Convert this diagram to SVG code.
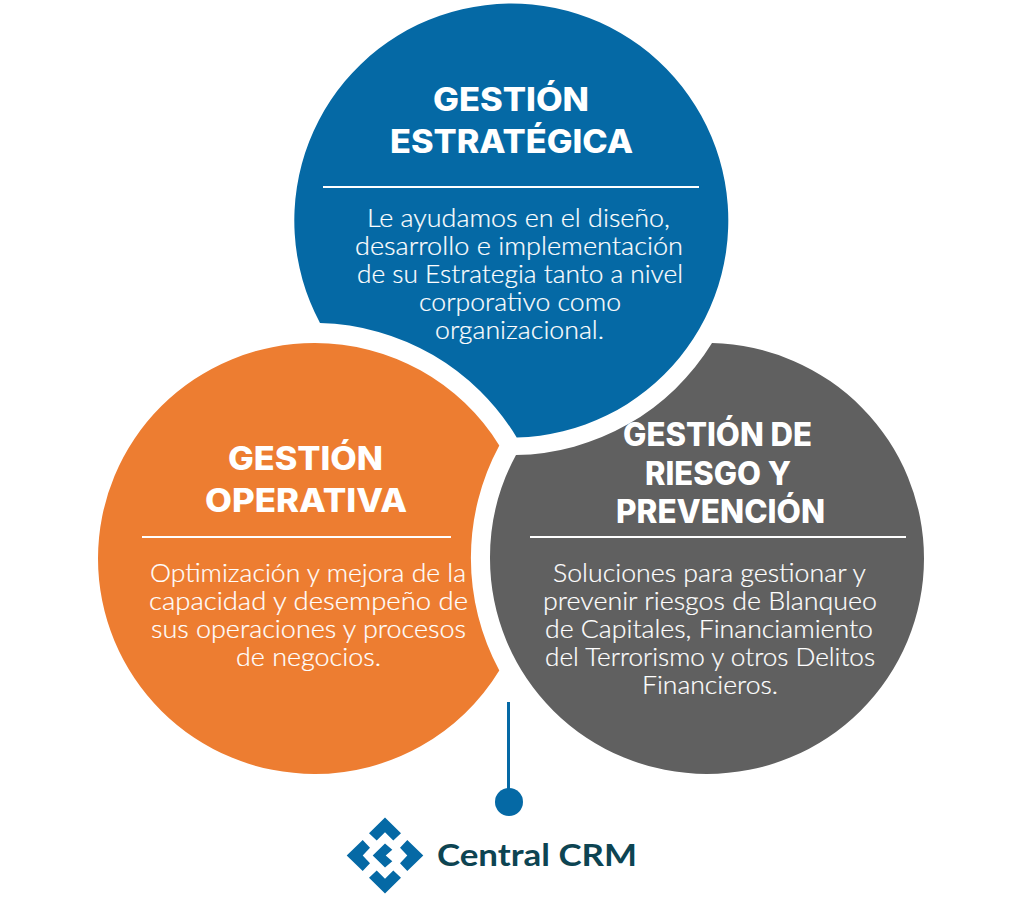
<svg xmlns="http://www.w3.org/2000/svg" width="1024" height="900" viewBox="0 0 1024 900">
<style>
.t{font-family:"Inter","Liberation Sans",sans-serif;font-weight:800;font-size:32px;fill:#fff;text-anchor:start}
.b{font-family:"Lato","Open Sans",sans-serif;font-weight:300;font-size:25px;fill:#fff;text-anchor:start;stroke:#fff;stroke-width:0.2}
.r{stroke:#fff;stroke-width:2;fill:none}
</style>
<rect width="1024" height="900" fill="#fff"/>
<g id="connectors">
<line x1="508.5" y1="702" x2="508.5" y2="790" stroke="#0569a5" stroke-width="3"/>
</g>
<g id="estrategica">
<path d="M320 323A217 217 0 1 1 516.7 437.500A236.500 236.500 0 0 0 320 323Z" fill="#0569a5"/>
<text class="t" x="433" y="110.500" textLength="156" lengthAdjust="spacingAndGlyphs">GESTIÓN</text>
<text class="t" x="390" y="152.500" textLength="243" lengthAdjust="spacingAndGlyphs">ESTRATÉGICA</text>
<line class="r" x1="323" y1="187" x2="699" y2="187"/>
<text class="b" x="367" y="227" textLength="303" lengthAdjust="spacingAndGlyphs">Le ayudamos en el diseño,</text>
<text class="b" x="355" y="255" textLength="328" lengthAdjust="spacingAndGlyphs">desarrollo e implementación</text>
<text class="b" x="357" y="283" textLength="326" lengthAdjust="spacingAndGlyphs">de su Estrategia tanto a nivel</text>
<text class="b" x="419" y="311" textLength="202" lengthAdjust="spacingAndGlyphs">corporativo como</text>
<text class="b" x="435" y="339" textLength="169" lengthAdjust="spacingAndGlyphs">organizacional.</text>
</g>
<g id="operativa">
<path d="M499.3 445.500A216.600 215.500 0 0 0 314.600 343A216.600 215.500 0 0 0 98 558.500A216.600 215.500 0 0 0 314.600 774A216.600 215.500 0 0 0 499.300 670.500A237 237 0 0 1 499.300 445.500Z" fill="#ed7d31"/>
<text class="t" x="228" y="470" textLength="155" lengthAdjust="spacingAndGlyphs">GESTIÓN</text>
<text class="t" x="205" y="512" textLength="202" lengthAdjust="spacingAndGlyphs">OPERATIVA</text>
<line class="r" x1="142" y1="537" x2="451" y2="537"/>
<text class="b" x="150" y="582" textLength="316" lengthAdjust="spacingAndGlyphs">Optimización y mejora de la</text>
<text class="b" x="149" y="610" textLength="319" lengthAdjust="spacingAndGlyphs">capacidad y desempeño de</text>
<text class="b" x="151" y="638" textLength="315" lengthAdjust="spacingAndGlyphs">sus operaciones y procesos</text>
<text class="b" x="236" y="666" textLength="145" lengthAdjust="spacingAndGlyphs">de negocios.</text>
</g>
<g id="riesgo">
<path d="M712 343.100A217 215.500 0 0 1 924 558.500A217 215.500 0 0 1 707 774A217 215.500 0 0 1 490 558.500A217 215.500 0 0 1 516 455A235 235 0 0 0 712 343.100Z" fill="#606060"/>
<text class="t" x="623" y="446" textLength="189" lengthAdjust="spacingAndGlyphs">GESTIÓN DE</text>
<text class="t" x="645" y="485" textLength="146" lengthAdjust="spacingAndGlyphs">RIESGO Y</text>
<text class="t" x="616" y="522.500" textLength="209" lengthAdjust="spacingAndGlyphs">PREVENCIÓN</text>
<line class="r" x1="530" y1="537" x2="906" y2="537"/>
<text class="b" x="553" y="582" textLength="313" lengthAdjust="spacingAndGlyphs">Soluciones para gestionar y</text>
<text class="b" x="543" y="610" textLength="334" lengthAdjust="spacingAndGlyphs">prevenir riesgos de Blanqueo</text>
<text class="b" x="545" y="638" textLength="328" lengthAdjust="spacingAndGlyphs">de Capitales, Financiamiento</text>
<text class="b" x="545" y="666" textLength="330" lengthAdjust="spacingAndGlyphs">del Terrorismo y otros Delitos</text>
<text class="b" x="642" y="694" textLength="136" lengthAdjust="spacingAndGlyphs">Financieros.</text>
</g>
<g id="dot"><circle cx="509" cy="802" r="14" fill="#0569a5"/></g>
<g id="logo">
<g transform="translate(385 855.5)" fill="#0569a5">
<path d="M0 -38L16 -22.300L8.300 -15L0 -23.300L-8.300 -15L-16 -22.300Z"/>
<path d="M0 38L16 22.300L8.300 15L0 23.300L-8.300 15L-16 22.300Z"/>
<path d="M-38.300 0L-22.300 -15.500L-15 -7.700L-22.300 0L-15 7.700L-22.300 15.500Z"/>
<path d="M38.300 0L22.300 -15.500L15 -7.700L22.300 0L15 7.700L22.300 15.500Z"/>
<path d="M-12.300 0L0 -12L7.300 -5.700L0.700 0L7.300 5.700L0 12Z"/>
</g>
<text x="437" y="866" font-family="Lato,'Liberation Sans',sans-serif" font-weight="700" font-size="30" fill="#0d4452" textLength="200" lengthAdjust="spacingAndGlyphs">Central CRM</text>
</g>
</svg>
